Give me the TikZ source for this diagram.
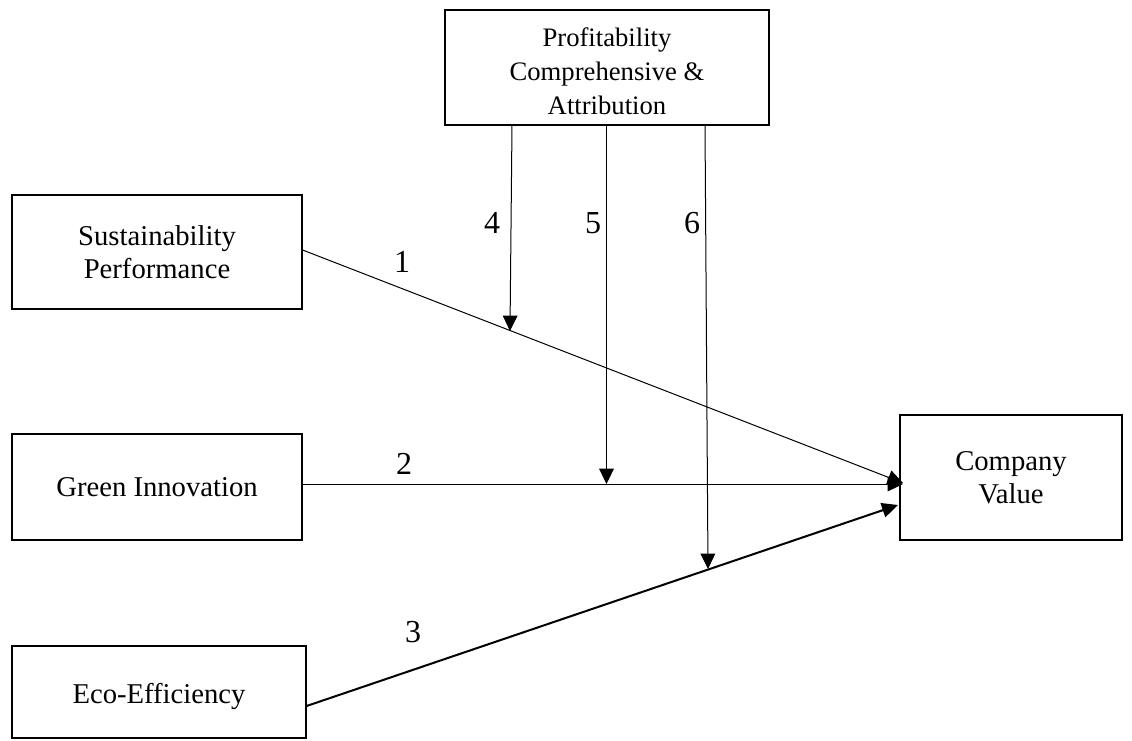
\documentclass[tikz,border=0pt]{standalone}
\usepackage{fontspec}
\setmainfont{Liberation Serif}
\usetikzlibrary{arrows.meta}
\begin{document}
\begin{tikzpicture}[x=0.75pt,y=-0.75pt,
  box/.style={draw, line width=0.9pt, inner sep=0pt, align=center,
    font=\fontsize{21.5}{25}\selectfont},
  boxtext/.style={inner sep=0pt, align=center, font=\fontsize{21.5}{25}\selectfont},
  toptext/.style={boxtext, font=\fontsize{20}{25.5}\selectfont},
  lbl/.style={font=\fontsize{24}{28}\selectfont, inner sep=0pt},
  conn/.style={line width=0.75pt, -{Triangle[length=11.5pt,width=11pt]}},
  thick conn/.style={line width=1.5pt, -{Triangle[length=12pt,width=11pt]}}]
\useasboundingbox (0,0) rectangle (1132,740);
\fill[white] (0,0) rectangle (1132,740);

\node[box, minimum width=243pt, minimum height=86.25pt] (pca) at (607,67.5) {};
\node[toptext] (pcat) at (607,71)
  {Profitability\\Comprehensive \&\\Attribution};
\node[box, minimum width=217.5pt, minimum height=85.5pt] (sp) at (157,252)
  {Sustainability\\Performance};
\node[box, minimum width=217.5pt, minimum height=79.5pt] (gi) at (157,487)
  {Green Innovation};
\node[box, minimum width=220.5pt, minimum height=69pt] (ee) at (159,692) {};
\node[boxtext] (eet) at (159,696) {Eco-Efficiency};
\node[box, minimum width=166.5pt, minimum height=93.75pt] (cv) at (1011,477.5)
  {Company\\Value};

% connector end points
\coordinate (s1) at (sp.east |- 0,250);
\coordinate (e1) at (903,483);
\coordinate (s2) at (gi.east |- 0,484);
\coordinate (e2) at (903,484);
\coordinate (s3) at (ee.east |- 0,706);
\coordinate (e3) at (898,505);
\coordinate (s4) at (512,125);
\coordinate (e4) at (510,331);
\coordinate (s5) at (606.5,125);
\coordinate (e5) at (606.5,484);
\coordinate (s6) at (705,125);
\coordinate (e6) at (708,569);

\draw[conn] (s1) -- (e1);
\draw[conn] (s2) -- (e2);
\draw[thick conn] (s3) -- (e3);
\draw[conn] (s4) -- (e4);
\draw[conn] (s5) -- (e5);
\draw[conn] (s6) -- (e6);

\node[lbl] (n1) at (402,262) {1};
\node[lbl] (n2) at (404,464) {2};
\node[lbl] (n3) at (413,632) {3};
\node[lbl] (n4) at (492,223) {4};
\node[lbl] (n5) at (593,223) {5};
\node[lbl] (n6) at (692,223) {6};
\end{tikzpicture}
\end{document}
